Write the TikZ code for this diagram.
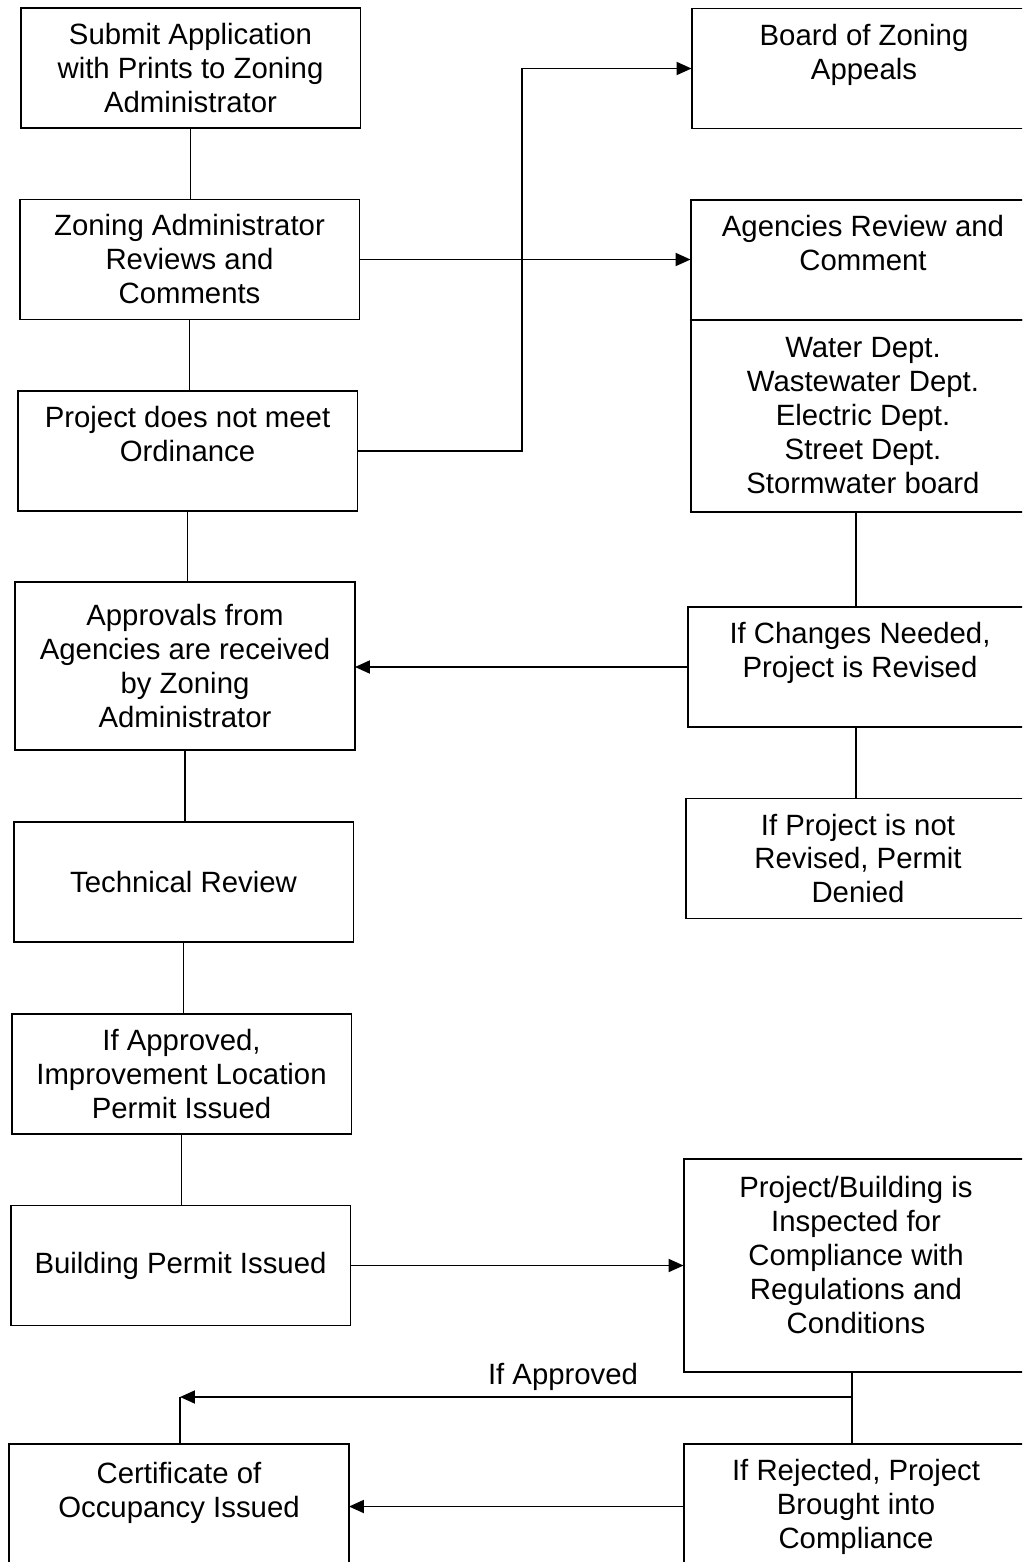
\documentclass[tikz,border=0pt]{standalone}
\usepackage{fontspec}
\setmainfont{Liberation Sans}
\usetikzlibrary{arrows.meta,positioning}

\begin{document}
\begin{tikzpicture}[
  x=0.02cm,y=-0.02cm,
  >={Triangle[length=0.3cm,width=0.26cm]},
  every node/.style={font=\fontsize{16.7}{19.35}\selectfont},
  procbox/.style={draw,line width=1.1pt,outer sep=0pt,inner sep=0pt,minimum width=6.8cm,minimum height=2.4cm,align=center},
  agencybox/.style={procbox,minimum width=6.9cm},
  link/.style={line width=1.1pt}
]
  \useasboundingbox (0,0) rectangle (1022,1562);
  \clip (0,0) rectangle (1022,1562);

  % left column
  \node[procbox] (submit) at (190.5,68) {Submit Application\\with Prints to Zoning\\Administrator};
  \node[procbox] (zareview) at (189.5,259.5) {Zoning Administrator\\Reviews and\\Comments};
  \node[procbox] (notmeet) at (187.5,451) {Project does not meet\\Ordinance\\\mbox{}};
  \node[procbox,minimum height=3.36cm] (approvals) at (185,666) {Approvals from\\Agencies are received\\by Zoning\\Administrator};
  \node[procbox] (techreview) at (183.5,882) {Technical Review};
  \node[procbox] (ilpermit) at (181.5,1074) {If Approved,\\Improvement Location\\Permit Issued};
  \node[procbox] (bldgpermit) at (180.5,1265.5) {Building Permit Issued};
  \node[procbox,minimum height=2.5cm] (certificate) at (179,1506.5) {Certificate of\\Occupancy Issued\\\mbox{}};

  % right column
  \node[agencybox] (bza) at (864,68.5) {Board of Zoning\\Appeals\\\mbox{}};
  \node[agencybox] (agencies) at (863,260) {Agencies Review and\\Comment\\\mbox{}};
  \node[agencybox,minimum height=3.84cm,below=0pt of agencies] (depts) {Water Dept.\\Wastewater Dept.\\Electric Dept.\\Street Dept.\\Stormwater board};
  \node[agencybox] (changes) at (860,667) {If Changes Needed,\\Project is Revised\\\mbox{}};
  \node[agencybox] (denied) at (858,858.5) {If Project is not\\Revised, Permit\\Denied};
  \node[agencybox,minimum height=4.26cm] (inspect) at (856,1265.5) {Project/Building is\\Inspected for\\Compliance with\\Regulations and\\Conditions\\[-6.8pt]\mbox{}};
  \node[agencybox,minimum height=2.5cm] (rejected) at (856,1506.5) {If Rejected, Project\\Brought into\\Compliance};

  % plain links
  \foreach \a/\b in {submit/zareview,zareview/notmeet,notmeet/approvals,approvals/techreview,techreview/ilpermit,ilpermit/bldgpermit}
    \draw[link] (\a.south) -- (\a.south |- \b.north);
  \coordinate (rightaxis) at (856,0);
  \draw[link] (depts.south -| rightaxis) -- (changes.north -| rightaxis);
  \draw[link] (changes.south -| rightaxis) -- (denied.north -| rightaxis);
  \coordinate (fork) at (852,1397);
  \draw[link] (inspect.south -| fork) -- (rejected.north -| fork);

  % arrows
  \draw[link,->] (zareview.east) -- (zareview.east -| agencies.west);
  \coordinate (jog) at (522,451);
  \draw[link,->] (notmeet.east) -- (jog) |- (bza.west);
  \draw[link,->] (changes.west) -- (changes.west -| approvals.east);
  \draw[link,->] (bldgpermit.east) -- (bldgpermit.east -| inspect.west);
  \coordinate (corner) at (180,1397);
  \draw[link,->] (fork) -- node[above,pos=0.43] (ifapproved) {If Approved} (corner);
  \draw[link] (corner) -- (corner |- certificate.north);
  \draw[link,->] (rejected.west) -- (rejected.west -| certificate.east);
\end{tikzpicture}
\end{document}
